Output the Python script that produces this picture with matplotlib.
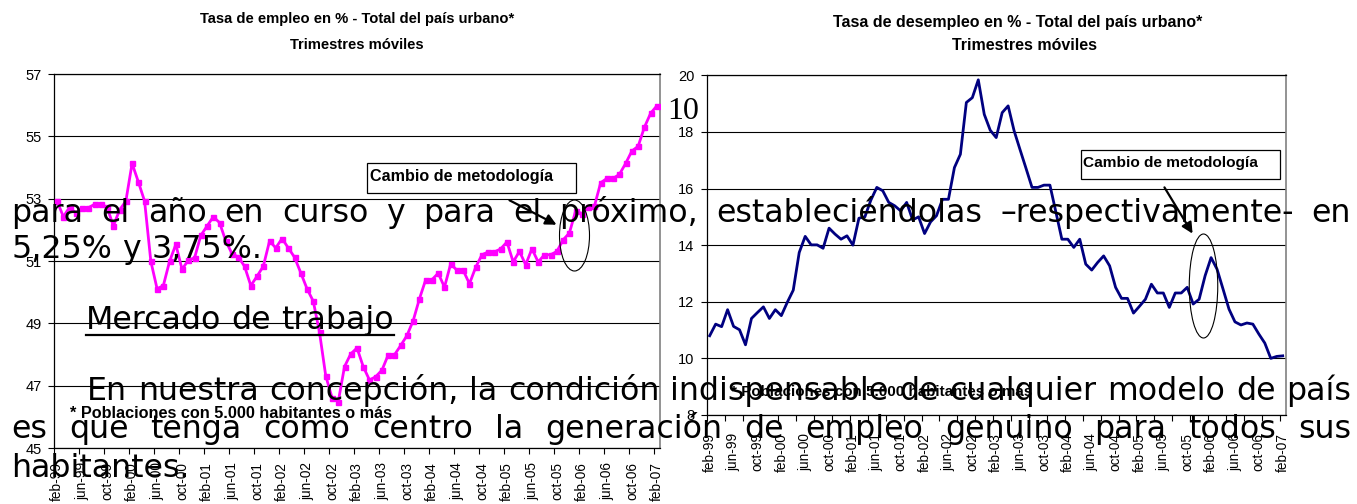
import matplotlib
matplotlib.use('Agg')
import matplotlib.pyplot as plt
from matplotlib.patches import Ellipse, Rectangle, FancyArrowPatch
from matplotlib.lines import Line2D

# ---------------- data ----------------
tick_labels = ['feb-99', 'jun-99', 'oct-99', 'feb-00', 'jun-00', 'oct-00', 'feb-01',
               'jun-01', 'oct-01', 'feb-02', 'jun-02', 'oct-02', 'feb-03', 'jun-03',
               'oct-03', 'feb-04', 'jun-04', 'oct-04', 'feb-05', 'jun-05', 'oct-05',
               'feb-06', 'jun-06', 'oct-06', 'feb-07']

empleo = [52.92, 52.42, 52.73, 52.53, 52.71, 52.71, 52.82, 52.82, 52.73, 52.12,
          52.64, 52.92, 54.13, 53.54, 52.92, 50.99, 50.11, 50.21, 50.99, 51.53,
          50.73, 51.03, 51.10, 51.82, 52.12, 52.42, 52.23, 51.64, 51.23, 51.13,
          50.83, 50.21, 50.51, 50.83, 51.64, 51.42, 51.72, 51.42, 51.12, 50.62,
          50.11, 49.71, 48.71, 47.31, 46.62, 46.49, 47.61, 48.02, 48.21, 47.61,
          47.18, 47.29, 47.50, 47.99, 47.99, 48.29, 48.61, 49.09, 49.79, 50.40,
          50.40, 50.61, 50.16, 50.91, 50.70, 50.70, 50.27, 50.80, 51.20, 51.29,
          51.29, 51.39, 51.61, 50.97, 51.31, 50.88, 51.39, 50.97, 51.20, 51.20,
          51.31, 51.68, 51.90, 52.61, 52.52, 52.73, 52.76, 53.51, 53.65, 53.65,
          53.78, 54.13, 54.53, 54.68, 55.29, 55.74, 55.98]

desempleo = [10.80, 11.21, 11.12, 11.72, 11.13, 11.01, 10.48, 11.41, 11.62, 11.82,
             11.41, 11.72, 11.51, 11.98, 12.41, 13.74, 14.31, 14.01, 14.01, 13.89,
             14.60, 14.39, 14.21, 14.33, 14.00, 14.95, 15.00, 15.59, 16.04, 15.92,
             15.51, 15.39, 15.21, 15.51, 14.89, 15.00, 14.41, 14.82, 15.04, 15.62,
             15.62, 16.74, 17.21, 19.04, 19.21, 19.84, 18.62, 18.06, 17.80, 18.68,
             18.92, 18.04, 17.37, 16.71, 16.04, 16.04, 16.12, 16.12, 15.17, 14.21,
             14.21, 13.92, 14.21, 13.33, 13.12, 13.39, 13.62, 13.27, 12.51, 12.12,
             12.12, 11.60, 11.84, 12.09, 12.62, 12.31, 12.31, 11.80, 12.31, 12.31,
             12.51, 11.92, 12.09, 12.92, 13.56, 13.15, 12.45, 11.74, 11.29, 11.18,
             11.25, 11.21, 10.86, 10.54, 10.00, 10.07, 10.09]

title_left = ['Tasa de empleo en % - Total del país urbano*', 'Trimestres móviles']
title_right = ['Tasa de desempleo en % - Total del país urbano*', 'Trimestres móviles']
note = '* Poblaciones con 5.000 habitantes o más'
annot = 'Cambio de metodología'

body_lines = [
    'para el año en curso y para el próximo, estableciéndolas –respectivamente- en',
    '5,25% y 3,75%.',
    'Mercado de trabajo',
    'En nuestra concepción, la condición indispensable de cualquier modelo de país',
    'es que tenga como centro la generación de empleo genuino para todos sus',
    'habitantes.',
]

# ---------------- figure ----------------
W, H = 1357, 504
plt.rcParams['font.family'] = ['Liberation Sans', 'DejaVu Sans']
fig = plt.figure(figsize=(W / 100, H / 100), dpi=100)
fig.patch.set_facecolor('white')


def fx(px):
    return px / W


def fy(py):
    return 1 - py / H


def make_axes(x0, x1, y0, y1):
    return fig.add_axes([fx(x0), fy(y1), fx(x1) - fx(x0), fy(y0) - fy(y1)])


n = len(empleo)
xs = list(range(n))
label_pos = list(range(0, n, 4))


def style_axes(ax, ymin, ymax, tick_every, xpad):
    ax.set_xlim(-0.5, n - 0.5)
    ax.set_ylim(ymin, ymax)
    ax.set_yticks(range(ymin, ymax + 1, 2))
    ax.yaxis.grid(True, color='black', lw=0.8)
    ax.set_axisbelow(True)
    ax.set_xticks(label_pos)
    ax.set_xticklabels(tick_labels, rotation=90, fontsize=9.8)
    ax.set_xticks([k - 0.5 for k in range(0, n + 1, tick_every)], minor=True)
    ax.tick_params(axis='x', which='major', length=0, pad=xpad)
    ax.tick_params(axis='x', which='minor', length=4, width=0.8, direction='out')
    ax.tick_params(axis='y', length=4, width=0.8, direction='out', labelsize=10.5, pad=5)
    for s in ['left', 'bottom', 'top']:
        ax.spines[s].set_color('black')
        ax.spines[s].set_linewidth(0.9)
    ax.spines['right'].set_color('#808080')
    ax.spines['right'].set_linewidth(1.2)


# left chart
ax1 = make_axes(54, 660, 74, 448)
ax1.plot(xs, empleo, color='#FF00FF', lw=2.0, marker='s', ms=3.6, zorder=3)
style_axes(ax1, 45, 57, 4, 10)
fig.text(fx(357), fy(19), title_left[0], ha='center', va='center', fontsize=10.6,
         fontweight='bold')
fig.text(fx(357), fy(45), title_left[1], ha='center', va='center', fontsize=10.6,
         fontweight='bold')

# right chart
ax2 = make_axes(706.7, 1285.7, 75.3, 415)
ax2.plot(xs, desempleo, color='#000080', lw=2.0, zorder=3)
style_axes(ax2, 8, 20, 3, 13)
fig.text(fx(1018), fy(23), title_right[0], ha='center', va='center', fontsize=11.5,
         fontweight='bold')
fig.text(fx(1024), fy(46), title_right[1], ha='center', va='center', fontsize=11.5,
         fontweight='bold')

# footnotes
fig.text(fx(70), fy(414), note, ha='left', va='center', fontsize=11.7, fontweight='bold')
fig.text(fx(731), fy(392), note, ha='left', va='center', fontsize=10.9, fontweight='bold')

# annotations: boxes, arrows, ellipses


def box(x0, y0, x1, y1, tx, ty, fs):
    fig.patches.append(Rectangle((fx(x0), fy(y1)), fx(x1) - fx(x0), fy(y0) - fy(y1),
                                 transform=fig.transFigure, facecolor='white',
                                 edgecolor='black', lw=0.9, zorder=4))
    fig.text(fx(tx), fy(ty), annot, ha='left', va='center', fontsize=fs,
             fontweight='bold', zorder=5)


def arrow(x0, y0, x1, y1):
    fig.patches.append(FancyArrowPatch((fx(x0), fy(y0)), (fx(x1), fy(y1)),
                                       transform=fig.transFigure, arrowstyle='-|>',
                                       mutation_scale=16, lw=1.6, color='black',
                                       zorder=4))


def ellipse(cx, cy, w, h):
    fig.patches.append(Ellipse((fx(cx), fy(cy)), w / W, h / H, transform=fig.transFigure,
                               fill=False, edgecolor='black', lw=0.8, zorder=4))


box(367, 163, 576, 193, 370, 176, 11.6)
arrow(507, 199, 559, 226)
ellipse(574.5, 235.5, 30, 71)

box(1080.5, 150, 1280, 179, 1083, 162.5, 11.1)
arrow(1163, 185, 1194, 236)
ellipse(1203.5, 286, 28.5, 104)

# page number
fig.text(fx(667), fy(119), '10', ha='left', va='baseline', fontsize=23,
         family='Liberation Serif', zorder=6)

# ---------------- overlay document text ----------------
FS = 22.8
renderer = fig.canvas.get_renderer()


def place_words(line, x0, x1, yb, justify=True):
    words = line.split(' ')
    ts = [fig.text(0, 0, w, fontsize=FS, family='DejaVu Sans', ha='left', va='baseline',
                   zorder=7) for w in words]
    widths = [t.get_window_extent(renderer).width for t in ts]
    if justify and len(words) > 1:
        gap = (x1 - x0 - sum(widths)) / (len(words) - 1)
    else:
        sp = fig.text(0, 0, 'a a', fontsize=FS, family='DejaVu Sans')
        sa = fig.text(0, 0, 'aa', fontsize=FS, family='DejaVu Sans')
        gap = sp.get_window_extent(renderer).width - sa.get_window_extent(renderer).width
        sp.remove()
        sa.remove()
    x = x0
    for t, w in zip(ts, widths):
        t.set_position((fx(x), fy(yb)))
        x += w + gap
    return x - gap


place_words(body_lines[0], 11.5, 1351, 222)
place_words(body_lines[1], 11.5, 1351, 258, justify=False)
xe = place_words(body_lines[2], 86, 1351, 329, justify=False)
fig.lines.append(Line2D([fx(86), fx(xe)], [fy(334.5), fy(334.5)], transform=fig.transFigure,
                        color='black', lw=1.6, zorder=7))
place_words(body_lines[3], 87, 1351, 400)
place_words(body_lines[4], 11.5, 1351, 438)
place_words(body_lines[5], 11.5, 1351, 477, justify=False)

fig.savefig('out.png', dpi=100)
